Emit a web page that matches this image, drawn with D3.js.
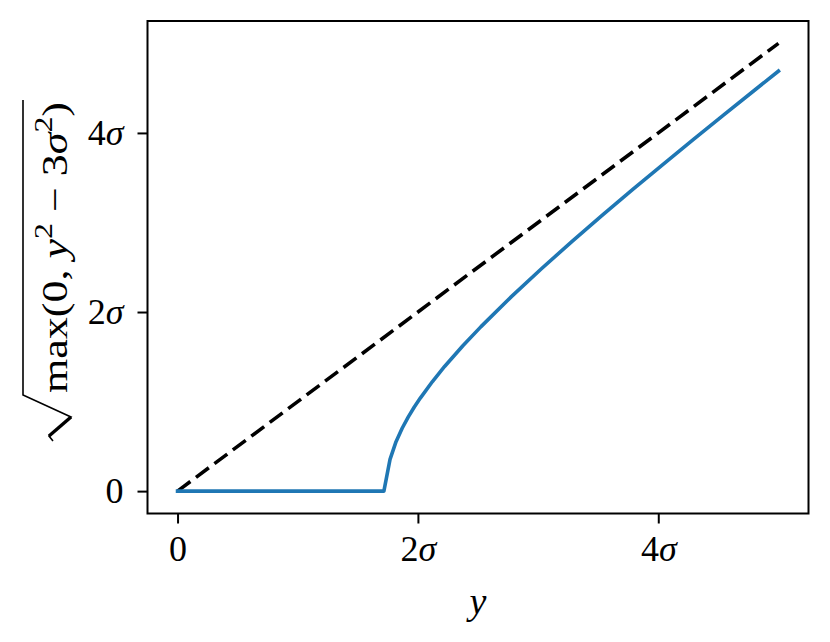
<!DOCTYPE html>
<html>
<head>
<meta charset="utf-8">
<script src="https://cdn.jsdelivr.net/npm/d3@7"></script>
<style>
  html, body { margin: 0; padding: 0; background: #fff; }
  svg { display: block; }
  text { font-family: "Liberation Serif", "DejaVu Serif", serif; fill: #000; }
</style>
</head>
<body>
<svg id="chart" width="830" height="642"></svg>
<script>
// ---- data (in units of sigma) ----
const curveX = [0, 1.717, 1.768, 1.818, 1.869, 1.919, 1.970, 2.020, 2.121, 2.222, 2.374, 2.525, 2.778, 3.030, 3.283, 3.535, 3.788, 4.040, 4.293, 4.545, 4.798, 5.0];
const curveY = [0, 0, 0.355, 0.552, 0.702, 0.826, 0.939, 1.039, 1.224, 1.392, 1.624, 1.837, 2.172, 2.486, 2.789, 3.082, 3.369, 3.650, 3.928, 4.202, 4.474, 4.690];
const refX = [0, 5];
const refY = [0, 5];
const xTicks = [0, 2, 4];
const yTicks = [0, 2, 4];
const tickLabels = ["0", "2", "4"];

const svg = d3.select("#chart");
const pLeft = 147.5, pRight = 808.5, pTop = 21, pBottom = 513.5;

const x = d3.scaleLinear().domain([-0.25, 5.25]).range([pLeft, pRight]);
const y = d3.scaleLinear().domain([-0.25, 5.25]).range([pBottom, pTop]);

const line = d3.line().x(d => x(d[0])).y(d => y(d[1])).curve(d3.curveLinear);

// clip
svg.append("clipPath").attr("id", "clip").append("rect")
  .attr("x", pLeft).attr("y", pTop).attr("width", pRight - pLeft).attr("height", pBottom - pTop);

const plot = svg.append("g").attr("clip-path", "url(#clip)");

plot.append("path")
  .datum(refX.map((v, i) => [v, refY[i]]))
  .attr("d", line)
  .attr("fill", "none")
  .attr("stroke", "#000")
  .attr("stroke-width", 3.6)
  .attr("stroke-dasharray", "16,7");

plot.append("path")
  .datum(curveX.map((v, i) => [v, curveY[i]]))
  .attr("d", line)
  .attr("fill", "none")
  .attr("stroke", "#1f77b4")
  .attr("stroke-width", 3.6)
  .attr("stroke-linejoin", "round")
  .attr("stroke-linecap", "square");

// axes
const fmt = d => tickLabels[xTicks.indexOf(d)];
const xAxis = d3.axisBottom(x).tickValues(xTicks).tickSize(10).tickPadding(12).tickFormat(fmt);
const yAxis = d3.axisLeft(y).tickValues(yTicks).tickSize(10).tickPadding(14).tickFormat(fmt);

const gx = svg.append("g").attr("transform", `translate(0,${pBottom})`).call(xAxis);
const gy = svg.append("g").attr("transform", `translate(${pLeft},0)`).call(yAxis);

[gx, gy].forEach(g => {
  g.select(".domain").remove();
  g.selectAll(".tick line").attr("stroke", "#000").attr("stroke-width", 2);
  g.selectAll(".tick text")
    .attr("font-family", '"Liberation Serif", serif')
    .attr("font-size", 36)
    .attr("fill", "#000");
});

// add italic sigma to nonzero labels
[gx, gy].forEach(g => {
  g.selectAll(".tick text").each(function(d) {
    if (d !== 0) {
      const t = d3.select(this);
      const s = t.text();
      t.text(null);
      t.append("tspan").text(s);
      t.append("tspan").attr("font-style", "italic").text("σ");
    }
  });
});
gx.selectAll(".tick text").attr("dy", "0.7em");
gy.selectAll(".tick text").attr("dy", "0.32em");

// frame
svg.append("rect")
  .attr("x", pLeft).attr("y", pTop).attr("width", pRight - pLeft).attr("height", pBottom - pTop)
  .attr("fill", "none").attr("stroke", "#000").attr("stroke-width", 2);

// x label
svg.append("text")
  .attr("x", (pLeft + pRight) / 2).attr("y", 614)
  .attr("text-anchor", "middle")
  .attr("font-size", 38)
  .attr("font-style", "italic")
  .text("y");

// y label: sqrt(max(0, y^2 - 3σ^2))
const cx = 67, cy = 270;
const gl = svg.append("g").attr("transform", `translate(${cx},${cy}) rotate(-90)`);
const lt = gl.append("text").attr("x", -123).attr("y", 0).attr("font-size", 36)
  .attr("textLength", 291).attr("lengthAdjust", "spacingAndGlyphs");
lt.append("tspan").text("max(0, ");
lt.append("tspan").attr("font-style", "italic").text("y");
lt.append("tspan").attr("font-size", 26).attr("dy", -15).text("2");
lt.append("tspan").attr("dy", 15).text(" − 3");
lt.append("tspan").attr("font-style", "italic").text("σ");
lt.append("tspan").attr("font-size", 26).attr("dy", -15).text("2");
lt.append("tspan").attr("dy", 15).text(")");

// radical sign
gl.append("path")
  .attr("d", "M170,-44 L-125,-44 L-147,4 L-166,-18 L-171,-14")
  .attr("fill", "none").attr("stroke", "#000").attr("stroke-width", 1.6)
  .attr("stroke-linejoin", "miter");
gl.append("path")
  .attr("d", "M-147,4 L-166,-18")
  .attr("fill", "none").attr("stroke", "#000").attr("stroke-width", 3.4);
</script>
</body>
</html>
